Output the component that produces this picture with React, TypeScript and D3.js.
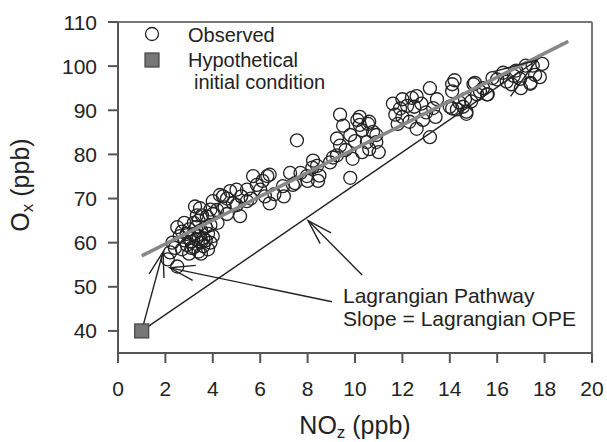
import React from "react";
import * as d3 from "d3";

// Observed NOz (ppb) and Ox (ppb)
const noz: number[] = [
  2.1, 2.2, 2.5, 2.4, 2.3,
  2.6, 2.7, 2.8, 2.9, 3.0, 3.0, 3.1, 3.1, 3.2, 3.2, 3.3, 3.3, 3.4, 3.4, 3.5, 3.5, 3.6, 3.6, 3.7, 3.7, 3.8, 3.8, 3.9, 3.9, 2.5, 2.8, 3.0, 3.4, 2.7, 4.0, 3.2, 2.9, 3.5,
  3.25, 3.33, 3.46, 3.54, 3.75, 4.0, 4.18, 4.3, 4.43, 4.73, 5.0, 4.85, 5.15, 5.44, 4.5, 4.0, 4.6, 3.9, 5.2, 4.2, 4.6, 5.0,
  5.44, 5.7, 5.86, 6.0, 6.1, 6.3, 6.4, 6.4, 6.96, 7.26, 7.38, 7.47, 7.7, 7.97, 8.0, 8.2, 8.23, 8.4, 8.44, 8.5, 7.55, 6.6, 7.0, 5.6, 6.2,
  8.95, 9.07, 9.24, 9.24, 9.37, 9.37, 9.8, 9.8, 10.1, 10.2, 10.55, 10.5, 10.9, 10.3, 9.6, 10.0, 10.6, 10.76, 10.9, 10.6, 9.9, 10.3, 9.5, 11.0, 10.2,
  11.7, 11.8, 11.9, 12.0, 12.3, 12.5, 12.6, 12.6, 12.87, 13.16, 13.4, 13.46, 13.16, 12.2, 12.0, 12.8, 13.0, 12.4, 11.6, 13.3,
  14.1, 14.1, 14.1, 14.0, 14.3, 14.56, 14.64, 14.7, 14.7, 15.0, 15.06, 15.15, 15.27, 15.57, 15.6, 15.8, 14.4, 14.9, 15.4, 14.2,
  16.25, 16.6, 16.96, 17.4, 17.4, 17.5, 17.9, 17.2, 16.0, 16.8, 17.0, 17.6, 16.4, 17.8, 16.7,
];
const ox: number[] = [
  56.2, 57.8, 54.6, 58.8, 60.0,
  61.5, 62.5, 60.5, 59.5, 61.0, 63.0, 58.8, 60.2, 62.0, 59.0, 60.8, 63.5, 58.0, 61.5, 60.0, 62.8, 59.2, 61.0, 63.5, 60.5, 58.5, 62.0, 60.0, 64.0, 63.5, 64.5, 57.5, 65.0, 58.5, 61.5, 64.5, 62.0, 57.5,
  68.2, 66.2, 67.8, 66.2, 65.9, 69.4, 67.4, 70.8, 70.5, 71.7, 72.0, 69.0, 66.0, 69.4, 68.0, 66.5, 66.5, 67.5, 70.5, 64.5, 70.0, 68.5,
  72.0, 75.1, 73.1, 72.0, 74.0, 75.1, 75.4, 68.9, 72.8, 75.8, 73.1, 73.5, 75.8, 75.1, 74.0, 77.0, 78.6, 77.4, 74.0, 75.2, 83.2, 71.0, 70.5, 70.0, 70.5,
  78.2, 79.3, 79.8, 83.6, 82.0, 89.0, 84.4, 74.7, 87.8, 86.7, 86.9, 82.8, 84.4, 80.5, 81.0, 83.0, 87.4, 85.1, 82.8, 81.2, 79.0, 85.5, 86.5, 80.5, 88.5,
  89.0, 86.9, 90.4, 92.5, 87.4, 90.8, 93.2, 85.8, 87.8, 95.0, 88.5, 92.5, 83.9, 91.0, 88.5, 91.5, 89.5, 92.8, 91.5, 90.5,
  95.9, 94.3, 90.4, 90.8, 90.2, 90.8, 92.5, 89.2, 89.7, 95.9, 96.2, 93.6, 94.3, 93.6, 93.6, 97.3, 91.8, 92.0, 95.0, 96.8,
  98.5, 95.9, 97.1, 96.2, 96.0, 100.1, 100.5, 100.1, 97.0, 99.0, 95.0, 98.0, 96.5, 97.5, 97.8,
];

// Hypothetical initial condition
const initialNoz = 1;
const initialOx = 40;

// Regression line endpoints [NOz, Ox]
const fitLine: [number, number][] = [[1, 57], [19, 105.6]];

// Annotation arrows: [fromNoz, fromOx, toNoz, toOx]
const lagrangianLine: [number, number, number, number] = [1, 40, 17.68, 101.4];
const arrows: [number, number, number, number][] = [
  [1, 40, 1.9, 57.9],
  [9.03, 46.6, 2.19, 54.3],
  [10.3, 52.7, 8.02, 65.0],
];

const xTicks = [0, 2, 4, 6, 8, 10, 12, 14, 16, 18, 20];
const yTicks = [40, 50, 60, 70, 80, 90, 100, 110];

const FONT = "'Liberation Sans', Arial, sans-serif";

function head(x1: number, y1: number, x2: number, y2: number, len: number, ang: number) {
  const a = Math.atan2(y1 - y2, x1 - x2);
  const p1 = [x2 + len * Math.cos(a + ang), y2 + len * Math.sin(a + ang)];
  const p2 = [x2 + len * Math.cos(a - ang), y2 + len * Math.sin(a - ang)];
  return `M${p1[0]},${p1[1]}L${x2},${y2}L${p2[0]},${p2[1]}`;
}

export default function App() {
  const x = d3.scaleLinear().domain([0, 20]).range([118, 592]);
  const y = d3.scaleLinear().domain([35, 110]).range([353, 22]);
  const line = d3.line<[number, number]>().x((d) => x(d[0])).y((d) => y(d[1]));

  const [lx1, ly1, lx2, ly2] = lagrangianLine;

  return (
    <svg width={607} height={442} style={{ position: "absolute", left: 0, top: 0, background: "#fff" }} fontFamily={FONT}>
      {/* frame */}
      <line x1={x(0)} x2={x(20)} y1={y(110)} y2={y(110)} stroke="#777" strokeWidth={2} />
      <line x1={x(20)} x2={x(20)} y1={y(110)} y2={y(35)} stroke="#777" strokeWidth={2} />
      <line x1={x(0)} x2={x(0)} y1={y(110)} y2={y(35)} stroke="#555" strokeWidth={2} />
      <line x1={x(0)} x2={x(20)} y1={y(35)} y2={y(35)} stroke="#555" strokeWidth={2} />

      {yTicks.map((t) => (
        <g key={"y" + t}>
          <line x1={x(0) - 10} x2={x(0)} y1={y(t)} y2={y(t)} stroke="#555" strokeWidth={2} />
          <text x={97} y={y(t)} dy="0.36em" textAnchor="end" fontSize={21} fill="#222">{t}</text>
        </g>
      ))}
      {xTicks.map((t) => (
        <g key={"x" + t}>
          <line x1={x(t)} x2={x(t)} y1={y(35)} y2={y(35) + 10} stroke="#555" strokeWidth={2} />
          <text x={x(t)} y={396} textAnchor="middle" fontSize={21} fill="#222">{t}</text>
        </g>
      ))}

      {/* axis titles */}
      <text x={355} y={434} textAnchor="middle" fontSize={25} fill="#222">
        NO<tspan fontSize={17} dy={4}>z</tspan><tspan dy={-4}> (ppb)</tspan>
      </text>
      <text transform="translate(29,185) rotate(-90)" textAnchor="middle" fontSize={25} fill="#222">
        O<tspan fontSize={17} dy={4}>x</tspan><tspan dy={-4}> (ppb)</tspan>
      </text>

      {/* observed points */}
      {noz.map((v, i) => (
        <circle key={i} cx={x(v)} cy={y(ox[i])} r={6.5} fill="none" stroke="#222" strokeWidth={1.3} />
      ))}

      {/* regression line */}
      <path d={line(fitLine) || ""} stroke="#888" strokeWidth={3.5} fill="none" />

      {/* Lagrangian pathway */}
      <line x1={x(lx1)} y1={y(ly1)} x2={x(lx2)} y2={y(ly2)} stroke="#222" strokeWidth={1.4} />
      <path d={head(x(lx1), y(ly1), x(lx2), y(ly2), 45, 0.34)} stroke="#222" strokeWidth={1.4} fill="none" />
      {arrows.map((a, i) => (
        <g key={"a" + i}>
          <line x1={x(a[0])} y1={y(a[1])} x2={x(a[2])} y2={y(a[3])} stroke="#222" strokeWidth={1.4} />
          <path d={head(x(a[0]), y(a[1]), x(a[2]), y(a[3]), 26, 0.3)} stroke="#222" strokeWidth={1.4} fill="none" />
        </g>
      ))}

      {/* initial condition */}
      <rect x={x(initialNoz) - 7} y={y(initialOx) - 7} width={14} height={14} fill="#777" stroke="#444" strokeWidth={1.2} />

      {/* legend */}
      <circle cx={152} cy={34} r={6.5} fill="none" stroke="#222" strokeWidth={1.3} />
      <text x={188} y={42} fontSize={20} fill="#222">Observed</text>
      <rect x={145} y={53} width={14} height={14} fill="#777" stroke="#444" strokeWidth={1.2} />
      <text x={188} y={67} fontSize={20} fill="#222">Hypothetical</text>
      <text x={194} y={89} fontSize={20} fill="#222">initial condition</text>

      {/* annotation */}
      <text x={343} y={303} fontSize={21} fill="#222">Lagrangian Pathway</text>
      <text x={343} y={326} fontSize={21} fill="#222">Slope = Lagrangian OPE</text>
    </svg>
  );
}
